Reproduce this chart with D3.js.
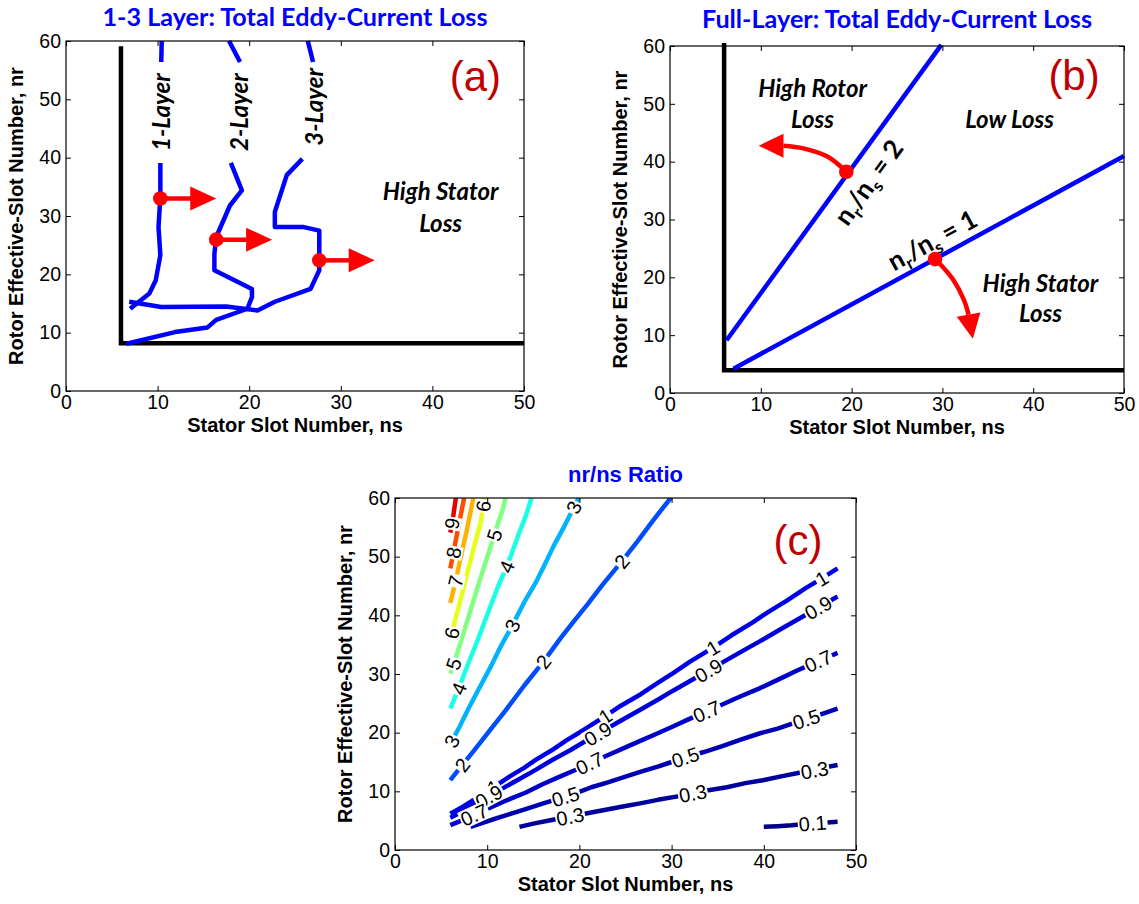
<!DOCTYPE html>
<html><head><meta charset="utf-8">
<script src="https://cdn.jsdelivr.net/npm/d3@7"></script>
<style>body{margin:0;background:#fff}svg{display:block}</style>
</head><body>
<script>
// ---------------- DATA ----------------
const xTicks = [0, 10, 20, 30, 40, 50];
const yTicks = [0, 10, 20, 30, 40, 50, 60];

// Panel (a): 1-3 layer boundaries
const aBoundary = [[6, 59.1], [6, 8.2], [50, 8.2]];
const layer1Top = [[10.45, 60], [10.4, 56.4]];
const layer1 = [[10.3, 39.1], [10.3, 33.3], [10.1, 28.1], [10.3, 23.3], [9.8, 19.0], [9.1, 16.7], [7.0, 14.1]];
const layer2Top = [[17.8, 60], [19.0, 56.4]];
const layer2 = [[18.0, 39.1], [19.2, 34.4], [17.9, 31.8], [16.4, 26.4], [16.2, 23.5], [16.2, 20.7], [20.3, 17.5], [20.3, 16.1], [19.8, 14.1], [16.4, 12.2], [15.45, 10.9], [11.9, 10.1], [6.6, 8.1]];
const layer3Top = [[26.4, 60], [26.97, 56.4]];
const layer3 = [[25.8, 39.8], [24.1, 37.0], [22.8, 30.7], [22.8, 28.1], [25.96, 28.1], [27.65, 27.5], [27.65, 20.7], [26.7, 17.5], [22.8, 15.3], [20.9, 13.8], [17.5, 14.5], [10.4, 14.4], [6.9, 15.3]];
const aLabels = ["1-Layer", "2-Layer", "3-Layer"];
const aLabelPos = [[10.4, 47.8], [19.0, 47.8], [27.1, 48.7]];
const aDots = [[10.3, 33.0], [16.4, 25.95], [27.65, 22.4]];
const aArrowTipX = [16.4, 22.5, 33.7];

// Panel (b): full-layer
const bBoundary = [[5.96, 60.5], [5.96, 3.92], [50, 3.92]];
const ratio2Line = [[6.23, 9.12], [29.88, 60.2]];
const ratio1Line = [[7.0, 4.2], [50, 40.97]];
const bDots = [[19.42, 38.26], [29.19, 23.14]];
const bArrow1 = [[19.42, 38.26], [17.38, 40.85], [14.69, 42.3], [12.5, 42.76]];
const bArrow1Tip = [9.77, 42.76];
const bArrow2 = [[29.19, 23.14], [29.69, 22.39], [31.23, 19.5], [32.38, 16.04], [32.88, 13.56]];
const bArrow2Tip = [33.35, 9.4];

// Panel (c): nr/ns ratio contours
const levels = [0.1, 0.3, 0.5, 0.7, 0.9, 1, 2, 3, 4, 5, 6, 7, 8, 9];
const c0_1 = [[40.0,3.95],[41.5,4.05],[43,4.2],[44.5,4.45],[45.3,4.55],[46.5,4.65],[48,4.8]];
const c0_3 = [[13.5,3.95],[15,4.5],[17,5.1],[19,5.7],[21,6.3],[23,6.9],[25,7.5],[26.6,7.95],[28.5,8.55],[30.5,9.1],[32.3,9.65],[34,10.2],[36,10.7],[38,11.4],[39.9,11.9],[42,12.6],[44,13.2],[45.5,13.6],[47,14.2],[48,14.5]];
const c0_5 = [[8.2,3.95],[10,4.9],[12,5.9],[14,6.9],[16,7.9],[18.5,9.1],[20,9.9],[21.3,10.7],[23,11.5],[25,12.5],[26.6,13.3],[28.5,14.2],[30,15.0],[31.5,15.8],[33.5,16.7],[35.5,17.7],[37.5,18.8],[39.6,19.9],[41.5,20.7],[43,21.5],[44.6,22.3],[46.5,23.3],[48,24.1]];
const c0_7 = [[6.0,4.25],[7.2,5.0],[8.6,6.0],[10,7.0],[12,8.4],[14.2,9.8],[16,11.2],[18,12.6],[19.5,13.6],[21.1,14.8],[23,16.1],[25,17.5],[26.6,18.6],[28.5,19.9],[30.2,21.1],[32,22.4],[33.8,23.6],[35.5,24.8],[37.5,26.2],[39.6,27.6],[41.5,29.0],[43.5,30.5],[45.9,32.2],[47,32.9],[48,33.6]];
const c0_9 = [[6.0,5.5],[7.5,6.7],[9,8.1],[10.5,9.4],[12,10.8],[13.5,12.1],[15.3,13.7],[17,15.3],[19,17.0],[20.5,18.4],[22,19.8],[24,21.6],[26.6,23.9],[28.5,25.6],[30.2,27.2],[32,28.8],[34,30.6],[36,32.4],[38,34.2],[39.6,35.6],[42,37.8],[44,39.6],[45.9,41.3],[48,43.2]];
const c1 = [[6.0,6.2],[7.5,7.5],[9,9.0],[10.7,10.7],[12.5,12.6],[14,14.0],[15.3,15.4],[17,17.0],[18.5,18.6],[20.5,20.5],[22.8,22.8],[24.5,24.6],[26.7,26.6],[28.5,28.5],[30.2,30.2],[32,32.1],[34.5,34.5],[36.5,36.6],[38.8,38.8],[40.5,40.6],[42.5,42.5],[44.5,44.6],[46.3,46.3],[48,48]];
const c2 = [[6.0,11.9],[7.3,14.5],[8.5,16.8],[10.5,20.8],[12,23.8],[14,28.0],[16.1,32.1],[18,36.2],[19.5,39.2],[20.9,41.9],[22.5,45.2],[24.6,49.2],[26.3,52.6],[28,56.2],[29.9,60]];
const c3 = [[6.0,18.1],[7.0,21.0],[8,24.2],[9,27.2],[10.5,31.6],[11.5,34.8],[12.7,38.2],[14,42.2],[15.2,45.4],[16.1,48.2],[17.2,51.8],[18.4,55.3],[19.4,58.4],[19.9,60]];
const c4 = [[6.0,24.1],[6.9,27.5],[8,32.0],[9,35.9],[10.2,40.9],[11.2,45.0],[12.2,48.6],[13.5,54.2],[14.2,57.0],[14.8,60]];
const c5 = [[6.0,30.1],[6.6,32.8],[7.4,36.8],[8.2,40.9],[9.0,45.0],[10.0,49.9],[11.1,55.3],[11.6,57.6],[12.0,60]];
const c6 = [[6.0,36.1],[6.5,39.0],[7.3,43.8],[8.0,48.2],[8.7,52.4],[9.3,55.9],[9.7,60]];
const c7 = [[6.0,42.1],[6.6,46.0],[7.2,50.4],[7.8,54.6],[8.5,60]];
const c8 = [[6.0,48.0],[6.4,51.2],[6.9,55.3],[7.5,60]];
const c9 = [[6.0,54.1],[6.3,56.7],[6.6,60]];
const contourLines = [c0_1, c0_3, c0_5, c0_7, c0_9, c1, c2, c3, c4, c5, c6, c7, c8, c9];
const contourLabels = [
  [9,6.4,55.6],[8,6.6,50.6],[7,6.7,45.8],[6,6.1,37.0],[6,9.6,58.6],[5,6.2,31.8],[5,11.2,53.5],
  [4,6.9,27.5],[4,12.1,48.3],[3,6.1,18.6],[3,12.7,38.3],[3,19.4,58.4],[2,7.3,14.5],[2,16.1,32.1],[2,24.6,49.2],
  [1,10.7,10.7],[1,22.8,22.8],[1,34.5,34.5],[1,46.3,46.3],
  [0.9,10.2,9.1],[0.9,22.0,19.8],[0.9,34.0,30.6],[0.9,45.9,41.3],
  [0.7,8.6,6.0],[0.7,21.1,14.8],[0.7,33.8,23.6],[0.7,45.9,32.2],
  [0.5,18.5,9.1],[0.5,31.5,15.8],[0.5,44.6,22.3],
  [0.3,19.0,5.7],[0.3,32.3,9.65],[0.3,45.5,13.6],[0.1,45.3,4.55]
];

// ---------------- STYLE / LAYOUT ----------------
const W = 1139, H = 904;
const BLUE = "#0000ff", RED = "#ff0000", DARKRED = "#c00000";
const ARIAL = "'Liberation Sans', Arial, sans-serif";
const CAL = "Lato, 'Open Sans', sans-serif";

const svg = d3.select("body").append("svg").attr("width", W).attr("height", H)
  .style("background", "#fff");

function makePanel(b) {
  const x = d3.scaleLinear().domain([0, 50]).range([b.l, b.r]);
  const y = d3.scaleLinear().domain([0, 60]).range([b.b, b.t]);
  const g = svg.append("g");
  return { x, y, g, b };
}
function drawFrame(p, title, titleOpts, xLabel, yLabel) {
  const { x, y, g, b } = p;
  const fa = g.append("g");
  const st = s => { s.select(".domain").remove(); s.selectAll("line").attr("stroke", "#000"); s.selectAll("text").attr("font-size", 19.5).attr("font-family", ARIAL).attr("fill", "#000"); s.attr("font-size", null).attr("font-family", null); };
  fa.append("g").attr("transform", `translate(0,${b.b})`).call(d3.axisBottom(x).tickValues(xTicks).tickSizeInner(-5).tickSizeOuter(0).tickPadding(4)).call(st);
  fa.append("g").attr("transform", `translate(0,${b.t})`).call(d3.axisTop(x).tickValues(xTicks).tickSizeInner(-5).tickSizeOuter(0).tickFormat("")).call(st);
  fa.append("g").attr("transform", `translate(${b.l},0)`).call(d3.axisLeft(y).tickValues(yTicks).tickSizeInner(-5).tickSizeOuter(0).tickPadding(5)).call(st);
  fa.append("g").attr("transform", `translate(${b.r},0)`).call(d3.axisRight(y).tickValues(yTicks).tickSizeInner(-5).tickSizeOuter(0).tickFormat("")).call(st);
  g.append("rect").attr("x", b.l).attr("y", b.t).attr("width", b.r - b.l).attr("height", b.b - b.t)
    .attr("fill", "none").attr("stroke", "#000").attr("stroke-width", 1.2);
  const cx = (b.l + b.r) / 2, cy = (b.t + b.b) / 2;
  const t = g.append("text").attr("x", cx).attr("y", titleOpts.y).attr("text-anchor", "middle")
    .attr("font-family", titleOpts.font).attr("font-weight", 700).attr("font-size", titleOpts.size)
    .attr("fill", BLUE).text(title);
  if (titleOpts.len) t.attr("textLength", titleOpts.len).attr("lengthAdjust", "spacingAndGlyphs");
  g.append("text").attr("x", cx).attr("y", b.b + 40.5).attr("text-anchor", "middle")
    .attr("font-family", ARIAL).attr("font-weight", 700).attr("font-size", 20).text(xLabel);
  g.append("text").attr("transform", `translate(${b.l - 43},${cy}) rotate(-90)`).attr("text-anchor", "middle")
    .attr("font-family", ARIAL).attr("font-weight", 700).attr("font-size", 20).text(yLabel);
}
function tag(p, txt, pos) {
  p.g.append("text").attr("x", p.x(pos[0])).attr("y", p.y(pos[1])).attr("text-anchor", "middle")
    .attr("font-family", ARIAL).attr("font-size", 42).attr("fill", DARKRED).text(txt);
}
function note(p, lines, pos, size) {
  const t = p.g.append("text").attr("text-anchor", "middle").attr("font-family", CAL)
    .attr("font-weight", 700).attr("font-style", "italic").attr("font-size", size || 24).attr("fill", "#000");
  lines.forEach((s, i) => t.append("tspan").attr("x", p.x(pos[i][0])).attr("y", p.y(pos[i][1])).text(s));
}
const line = (p) => d3.line().x(d => p.x(d[0])).y(d => p.y(d[1]));
function head(g, base, tip, half) {
  const dx = tip[0] - base[0], dy = tip[1] - base[1], L = Math.hypot(dx, dy);
  const nx = -dy / L * half, ny = dx / L * half;
  g.append("path").attr("d", `M${tip[0]},${tip[1]}L${base[0] + nx},${base[1] + ny}L${base[0] - nx},${base[1] - ny}Z`).attr("fill", RED);
}

// ---------------- PANEL A ----------------
const A = makePanel({ l: 66, r: 524, t: 41, b: 391 });
A.g.append("path").attr("d", line(A)(aBoundary)).attr("fill", "none").attr("stroke", "#000").attr("stroke-width", 4.5).attr("stroke-linejoin", "miter");
[layer1Top, layer1, layer2Top, layer2, layer3Top, layer3].forEach(pts => {
  A.g.append("path").attr("d", line(A)(pts)).attr("fill", "none").attr("stroke", BLUE).attr("stroke-width", 4.5).attr("stroke-linejoin", "round");
});
aLabels.forEach((s, i) => {
  A.g.append("text").attr("transform", `translate(${A.x(aLabelPos[i][0])},${A.y(aLabelPos[i][1])}) rotate(-90)`)
    .attr("text-anchor", "middle").attr("dy", "0.35em").attr("font-family", CAL).attr("font-weight", 700)
    .attr("font-style", "italic").attr("font-size", 24).text(s);
});
aDots.forEach((d, i) => {
  const x0 = A.x(d[0]), y0 = A.y(d[1]), xt = A.x(aArrowTipX[i]);
  A.g.append("line").attr("x1", x0).attr("y1", y0).attr("x2", xt - 24).attr("y2", y0).attr("stroke", RED).attr("stroke-width", 4.5);
  head(A.g, [xt - 26, y0], [xt, y0], 12);
  A.g.append("circle").attr("cx", x0).attr("cy", y0).attr("r", 7.3).attr("fill", RED);
});
note(A, ["High Stator", "Loss"], [[40.9, 32.7], [40.9, 27.3]]);
tag(A, "(a)", [44.7, 51.5]);
drawFrame(A, "1-3 Layer: Total Eddy-Current Loss", { y: 26, font: CAL, size: 24, len: 385 },
  "Stator Slot Number, ns", "Rotor Effective-Slot Number, nr");

// ---------------- PANEL B ----------------
const B = makePanel({ l: 670, r: 1124, t: 46, b: 393 });
B.g.append("path").attr("d", line(B)(bBoundary)).attr("fill", "none").attr("stroke", "#000").attr("stroke-width", 4.5);
[ratio2Line, ratio1Line].forEach(pts => {
  B.g.append("path").attr("d", line(B)(pts)).attr("fill", "none").attr("stroke", BLUE).attr("stroke-width", 4.5);
});
[[bArrow1, bArrow1Tip], [bArrow2, bArrow2Tip]].forEach(([pts, tip]) => {
  B.g.append("path").attr("d", d3.line().curve(d3.curveCatmullRom).x(d => B.x(d[0])).y(d => B.y(d[1]))(pts))
    .attr("fill", "none").attr("stroke", RED).attr("stroke-width", 4.5);
  const base = pts[pts.length - 1];
  head(B.g, [B.x(base[0]), B.y(base[1])], [B.x(tip[0]), B.y(tip[1])], 12);
});
bDots.forEach(d => B.g.append("circle").attr("cx", B.x(d[0])).attr("cy", B.y(d[1])).attr("r", 7.3).attr("fill", RED));
function ratioText(p, lineDef, pos, val) {
  const a = Math.atan2(p.y(lineDef[1][1]) - p.y(lineDef[0][1]), p.x(lineDef[1][0]) - p.x(lineDef[0][0])) * 180 / Math.PI;
  const t = p.g.append("text").attr("transform", `translate(${p.x(pos[0])},${p.y(pos[1])}) rotate(${a})`)
    .attr("text-anchor", "middle").attr("y", 9).attr("font-family", CAL).attr("font-weight", 700).attr("font-size", 26);
  t.append("tspan").text("n");
  t.append("tspan").attr("dy", 6).attr("font-size", 17).text("r");
  t.append("tspan").attr("dy", -6).text("/n");
  t.append("tspan").attr("dy", 6).attr("font-size", 17).text("s");
  t.append("tspan").attr("dy", -6).text(" = " + val);
}
ratioText(B, ratio2Line, [21.9, 36.4], 2);
ratioText(B, ratio1Line, [28.9, 26.4], 1);
note(B, ["High Rotor", "Loss"], [[15.7, 51.2], [15.7, 45.8]]);
note(B, ["Low Loss"], [[37.4, 45.8]]);
note(B, ["High Stator", "Loss"], [[40.8, 17.5], [40.8, 12.3]]);
tag(B, "(b)", [44.5, 52.4]);
drawFrame(B, "Full-Layer: Total Eddy-Current Loss", { y: 27.5, font: CAL, size: 24, len: 390 },
  "Stator Slot Number, ns", "Rotor Effective-Slot Number, nr");

// ---------------- PANEL C ----------------
const C = makePanel({ l: 395, r: 856, t: 498, b: 850 });
function jet(v) {
  const t = v / 10, c = q => Math.max(0, Math.min(1, q));
  return d3.rgb(255 * c(1.5 - Math.abs(4 * t - 3)), 255 * c(1.5 - Math.abs(4 * t - 2)), 255 * c(1.5 - Math.abs(4 * t - 1))).toString();
}
svg.append("defs").append("clipPath").attr("id", "clipC").append("rect")
  .attr("x", C.b.l).attr("y", C.b.t).attr("width", C.b.r - C.b.l).attr("height", C.b.b - C.b.t);
const cl = C.g.append("g").attr("clip-path", "url(#clipC)");
levels.forEach((lv, i) => {
  cl.append("path").attr("d", line(C)(contourLines[i])).attr("fill", "none").attr("stroke", jet(lv))
    .attr("stroke-width", 4.5).attr("stroke-linejoin", "round");
});
const lab = C.g.append("g");
contourLabels.forEach(([lv, lx, ly]) => {
  const pts = contourLines[levels.indexOf(lv)].map(d => [C.x(d[0]), C.y(d[1])]);
  const P = [C.x(lx), C.y(ly)];
  let best = null;
  for (let k = 0; k < pts.length - 1; k++) {
    const a = pts[k], b2 = pts[k + 1], vx = b2[0] - a[0], vy = b2[1] - a[1];
    let u = ((P[0] - a[0]) * vx + (P[1] - a[1]) * vy) / (vx * vx + vy * vy);
    u = Math.max(0, Math.min(1, u));
    const q = [a[0] + u * vx, a[1] + u * vy], dd = Math.hypot(q[0] - P[0], q[1] - P[1]);
    if (!best || dd < best.d) best = { d: dd, q, ang: Math.atan2(vy, vx) * 180 / Math.PI };
  }
  let ang = best.ang; if (ang > 90) ang -= 180; if (ang < -90) ang += 180;
  const gg = lab.append("g").attr("transform", `translate(${best.q[0]},${best.q[1]}) rotate(${ang})`);
  const r = gg.append("rect").attr("fill", "#fff");
  const t = gg.append("text").attr("text-anchor", "middle").attr("dy", "0.36em")
    .attr("font-family", ARIAL).attr("font-size", 20).attr("fill", "#000").text(String(lv));
  const bb = t.node().getBBox();
  r.attr("x", bb.x - 1).attr("y", bb.y + 2).attr("width", bb.width + 2).attr("height", bb.height - 4);
});
tag(C, "(c)", [43.7, 50.3]);
drawFrame(C, "nr/ns Ratio", { y: 482, font: ARIAL, size: 22 },
  "Stator Slot Number, ns", "Rotor Effective-Slot Number, nr");
</script>
</body></html>
